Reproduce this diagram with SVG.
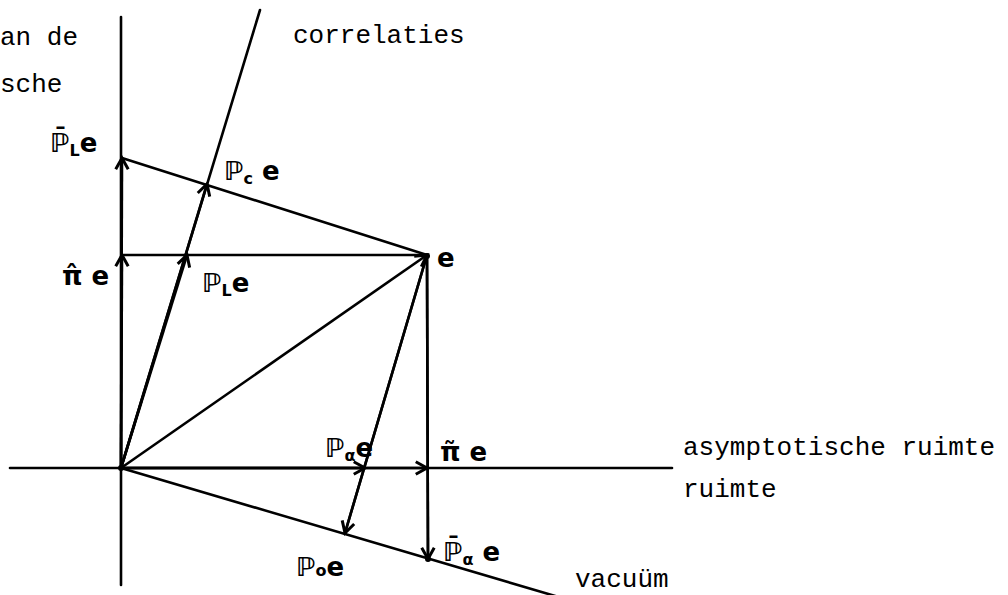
<svg xmlns="http://www.w3.org/2000/svg" width="1008" height="595" viewBox="0 0 1008 595">
<style>
.ln{stroke:#000;stroke-width:2.6;fill:none;stroke-linecap:round}
.ar{stroke:#000;stroke-width:2.6;fill:none;marker-end:url(#ah)}
.mono{font-family:"Liberation Mono","Courier New",monospace;font-size:26px;fill:#000}
.hw{font-family:"DejaVu Sans","Noto Sans",sans-serif;font-size:26px;fill:#000;font-weight:bold}
.sub{font-size:16px}
</style>
<defs>
<marker id="ah" markerUnits="userSpaceOnUse" markerWidth="20" markerHeight="20" viewBox="-12 -8 14 16" refX="0" refY="0" orient="auto">
<path d="M-9,-5 L0,0 L-9,5" fill="none" stroke="#000" stroke-width="2.4"/>
</marker>
</defs>
<rect width="1008" height="595" fill="#fff"/>
<g id="connectors">
<path class="ln" d="M121,17 L121,585"/>
<path class="ln" d="M10,468 L672,468"/>
<path class="ln" d="M121,468 L260,10"/>
<path class="ln" d="M121,468 L562,598"/>
<path class="ln" d="M122,158 L427,255"/>
<path class="ln" d="M122,255 L427,255"/>
<path class="ln" d="M427,255 L428,559"/>
<path class="ln" d="M427,255 L345,533"/>
<path class="ar" d="M121,468 L122,158"/>
<path class="ar" d="M121,468 L122,255"/>
<path class="ar" d="M121,468 L207,184"/>
<path class="ar" d="M121,468 L187,255"/>
<path class="ar" d="M121,468 L365,468"/>
<path class="ar" d="M121,468 L427,468"/>
<path class="ar" d="M121,468 L427,255"/>
<path class="ar" d="M427,255 L345,533"/>
<path class="ar" d="M427,255 L428,559"/>
<circle cx="427" cy="256" r="3" fill="#000"/>
<circle cx="428" cy="559" r="3" fill="#000"/>
<circle cx="121" cy="468" r="3" fill="#000"/>
</g>
<g id="label-van-de"><text class="mono" x="0" y="45">an de</text></g>
<g id="label-sche"><text class="mono" x="0" y="92">sche</text></g>
<g id="label-correlaties"><text class="mono" x="293" y="43">correlaties</text></g>
<g id="label-asymptotische"><text class="mono" x="683" y="455">asymptotische ruimte</text></g>
<g id="label-ruimte"><text class="mono" x="683" y="497">ruimte</text></g>
<g id="label-vacuum"><text class="mono" x="575" y="587">vacuüm</text></g>
<g id="node-PbarL"><text class="hw" x="50" y="152">ℙ̄<tspan class="sub" dy="4">L</tspan><tspan dy="-4">e</tspan></text></g>
<g id="node-Pc"><text class="hw" x="224" y="180">ℙ<tspan class="sub" dy="4">c</tspan><tspan dy="-4"> e</tspan></text></g>
<g id="node-pihat"><text class="hw" x="62" y="285">π̂ e</text></g>
<g id="node-PL"><text class="hw" x="202" y="292">ℙ<tspan class="sub" dy="4">L</tspan><tspan dy="-4">e</tspan></text></g>
<g id="node-e"><text class="hw" x="437" y="267">e</text></g>
<g id="node-Palpha"><text class="hw" x="325" y="457">ℙ<tspan class="sub" dy="4">α</tspan><tspan dy="-4">e</tspan></text></g>
<g id="node-pitilde"><text class="hw" x="440" y="461">π̃ e</text></g>
<g id="node-P0"><text class="hw" x="296" y="576">ℙ<tspan class="sub">o</tspan>e</text></g>
<g id="node-Pbaralpha"><text class="hw" x="443" y="561">ℙ̄<tspan class="sub" dy="4">α</tspan><tspan dy="-4"> e</tspan></text></g>
</svg>
